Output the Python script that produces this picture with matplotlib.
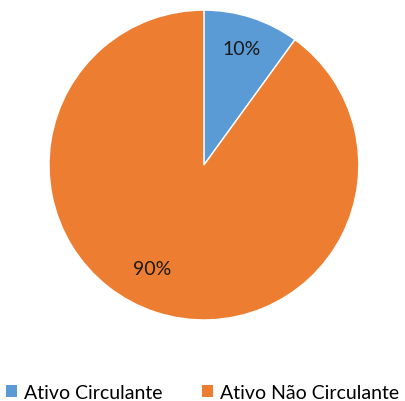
import matplotlib

matplotlib.use("Agg")
import matplotlib.pyplot as plt
from matplotlib.patches import Patch

LABELS = ["Ativo Circulante", "Ativo Não Circulante"]
SHARES = [10, 90]
COLORS = ["#5B9BD5", "#ED7D31"]

plt.rcParams["font.family"] = ["Lato", "DejaVu Sans"]

fig = plt.figure(figsize=(4.05, 4.02), dpi=100)
ax = fig.add_axes([0.121, 0.2015, 0.765, 0.771])

wedges, texts, autotexts = ax.pie(
    SHARES,
    colors=COLORS,
    startangle=90,
    counterclock=False,
    autopct="%1.0f%%",
    pctdistance=0.79,
    wedgeprops={"edgecolor": "white", "linewidth": 1.0},
    textprops={"fontsize": 14, "color": "#1a1a1a"},
    radius=1.0,
)
# Excel puts the big label lower-left of the slice middle
autotexts[1].set_position((-0.335, -0.671))
ax.set_xlim(-1, 1)
ax.set_ylim(-1, 1)
ax.set_aspect("equal")

handles = [Patch(facecolor=c, edgecolor="none") for c in COLORS]
fig.legend(
    handles,
    LABELS,
    loc="center",
    bbox_to_anchor=(0.5, 0.022),
    ncol=2,
    frameon=False,
    fontsize=14,
    handlelength=0.6,
    handleheight=0.6,
    handletextpad=0.35,
    columnspacing=2.0,
)

fig.savefig("out.png", dpi=100)
